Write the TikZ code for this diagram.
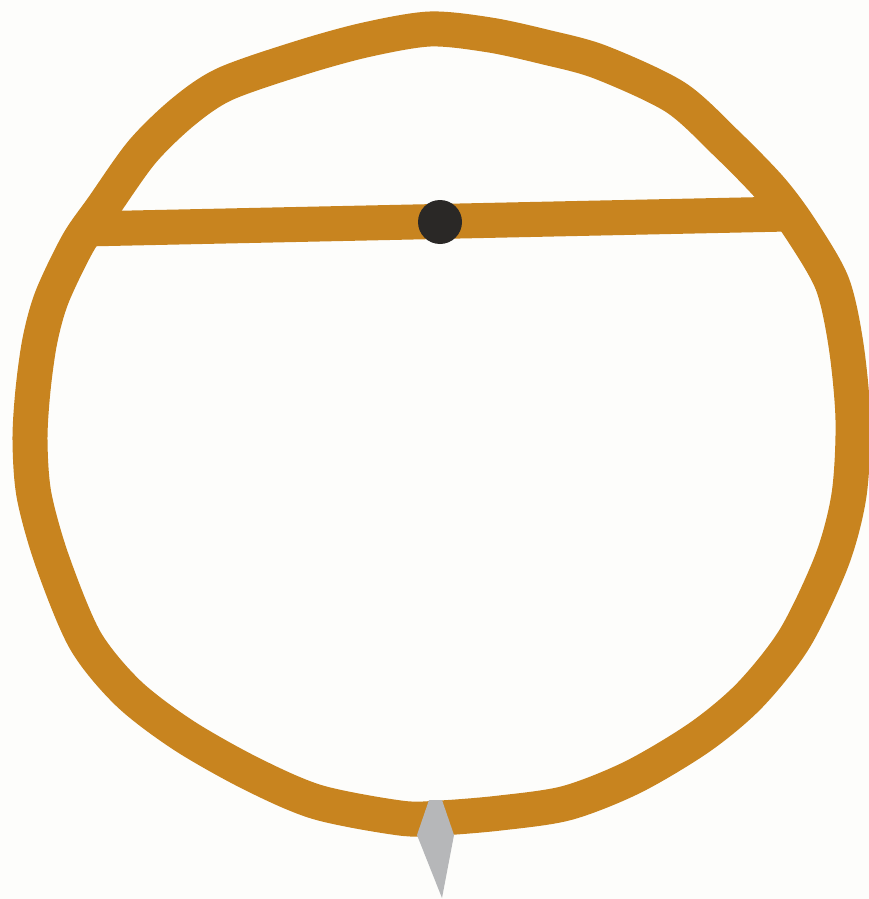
\documentclass[tikz,border=0pt]{standalone}
\definecolor{ringc}{HTML}{C8841F}
\definecolor{dotc}{HTML}{2A2826}
\definecolor{spikec}{HTML}{B6B7B9}
\definecolor{bgc}{HTML}{FDFDFB}
\begin{document}
\begin{tikzpicture}[x=1pt,y=-1pt,
  ringline/.style={draw=ringc,line width=35pt,line join=round},
  chordline/.style={draw=ringc,line width=35pt},
  dotstyle/.style={circle,fill=dotc,minimum size=44pt,inner sep=0pt},
  spikestyle/.style={fill=spikec}]
\fill[bgc] (0,0) rectangle (869,899);
\useasboundingbox (0,0) rectangle (869,899);
\coordinate (cl) at (85,229);
\coordinate (cr) at (788,214);
\draw[chordline] (cl) -- (cr);
\draw[ringline] plot[smooth cycle,tension=0.5] coordinates {
 (430,29) (490,35) (545,47) (600,62) (675,97) (725,142) (770,188) (800,228)
 (832,283) (846,345) (853,420) (849,495) (832,560) (795,638) (750,695) (700,737)
 (633,777) (567,803) (500,813) (440,818) (400,818) (317,802) (250,773) (183,735)
 (128,693) (85,640) (52,560) (34,495) (30,440) (33,390) (40,340) (52,297)
 (78,243) (103,207) (142,152) (183,112) (225,84) (300,58) (365,40)};
\node[dotstyle] (dot) at (440,222) {};
\fill[spikestyle] (429,800) -- (442,800) -- (454,835) -- (442,898) -- (417,835) -- cycle;
\end{tikzpicture}
\end{document}
